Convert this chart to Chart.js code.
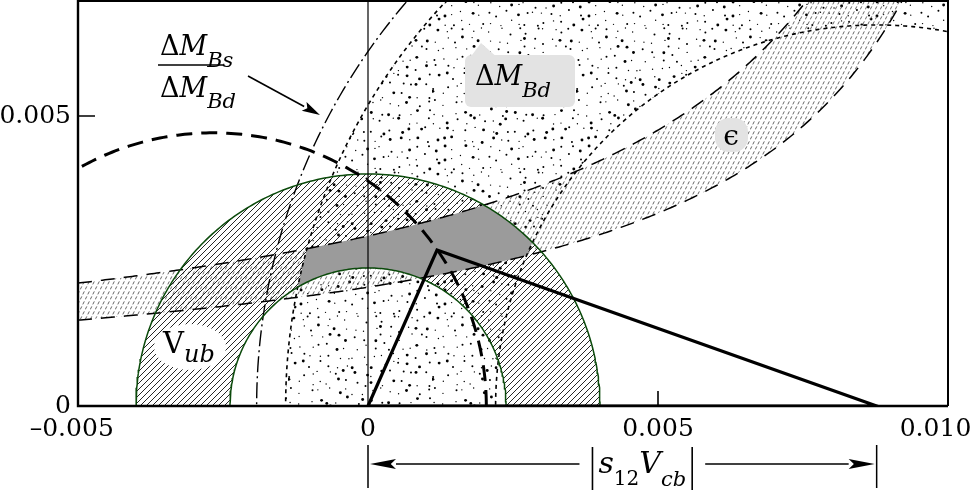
<!DOCTYPE html>
<html>
<head>
<meta charset="utf-8">
<script src="https://cdn.jsdelivr.net/npm/chart.js@4.4.1/dist/chart.umd.min.js"></script>
<style>
html,body{margin:0;padding:0;background:#fff;}
</style>
</head>
<body>
<canvas id="mycanvas" width="977" height="497"></canvas>
<script>
// axis ticks
var xTicks = [-0.005, 0, 0.005, 0.010];
var xTickLabels = ['\u20130.005\u2002', '0', '0.005', '0.010\u2003'];
var yTicks = [0, 0.005];
var yTickLabels = ['0', '0.005'];

// |Vub| annulus around the origin: inner, outer radius
var vubRadii = [0.00238, 0.0040];
// dM_Bd annulus around (|s12 Vcb|, 0): inner, outer radius
var dmdCentre = [0.00877, 0];
var dmdRadii = [0.00657, 0.01019];
// dM_Bs/dM_Bd bound, same centre
var dmsRadius = [0.01069];
// thick dashed circle: centre x, radius
var bigCircle = [-0.00267, 0.00471];
// epsilon band, y = k / (pole - x)
var epsPole = [0.01303];
var epsK = [0.0000382, 0.0000267];
// unitarity triangle
var triX = [0, 0.00119, 0.00877, 0];
var triY = [0, 0.00269, 0, 0];

var yTop = 0.007;

function arcPts(cx, r, n) {
  var p = [];
  for (var i = 0; i <= n; i++) {
    var t = Math.PI * i / n;
    p.push({x: cx + r * Math.cos(t), y: r * Math.sin(t)});
  }
  return p;
}
function hypPts(k, pole, n) {
  var p = [];
  var xEnd = pole - k / (yTop * 1.03);
  for (var i = 0; i <= n; i++) {
    var x = -0.005 + (xEnd + 0.005) * i / n;
    p.push({x: x, y: k / (pole - x)});
  }
  return p;
}
function lineSet(data, color, width, dash) {
  return {data: data, showLine: true, borderColor: color, borderWidth: width,
          borderDash: dash || [], pointRadius: 0, fill: false, tension: 0};
}

var ctx0 = document.getElementById('mycanvas').getContext('2d');

// stipple texture: one jittered dot per small cell, fixed hash
function makeStipple() {
  var cell = 9, N = 16, S = cell * N;
  var c = document.createElement('canvas');
  c.width = S; c.height = S;
  var g = c.getContext('2d');
  function hash(i, j, k) {
    var v = Math.sin(i * 127.1 + j * 311.7 + k * 74.7) * 43758.5453;
    return v - Math.floor(v);
  }
  g.fillStyle = '#000';
  for (var i = 0; i < N; i++) {
    for (var j = 0; j < N; j++) {
      var x = (i + 0.1 + 0.8 * hash(i, j, 1)) * cell;
      var y = (j + 0.1 + 0.8 * hash(i, j, 2)) * cell;
      var q = hash(i, j, 3);
      var r = q < 0.22 ? 1.45 : (q < 0.55 ? 1.0 : 0.7);
      g.beginPath(); g.arc(x, y, r, 0, 7); g.fill();
    }
  }
  return ctx0.createPattern(c, 'repeat');
}
function makeHatch() {
  var c = document.createElement('canvas');
  var n = 6;
  c.width = n; c.height = n;
  var g = c.getContext('2d');
  g.strokeStyle = '#000'; g.lineWidth = 0.85;
  g.beginPath();
  g.moveTo(0, n); g.lineTo(n, 0);
  g.moveTo(-1, 1); g.lineTo(1, -1);
  g.moveTo(n - 1, n + 1); g.lineTo(n + 1, n - 1);
  g.stroke();
  return ctx0.createPattern(c, 'repeat');
}
function makeEpsHatch() {
  var c = document.createElement('canvas');
  c.width = 5; c.height = 10;
  var g = c.getContext('2d');
  g.strokeStyle = '#555'; g.lineWidth = 0.9;
  g.beginPath();
  g.moveTo(0.3, 9.4); g.lineTo(1.8, 6.4);
  g.moveTo(2.8, 4.4); g.lineTo(4.3, 1.4);
  g.stroke();
  return ctx0.createPattern(c, 'repeat');
}
var stipple = makeStipple(), vubHatch = makeHatch(), epsHatch = makeEpsHatch();

function pxPerUnit(xs, ys) {
  // small steps only: the scale clamps pixels far outside the canvas
  return [(xs.getPixelForValue(0.001) - xs.getPixelForValue(0)) * 1000,
          (ys.getPixelForValue(0) - ys.getPixelForValue(0.001)) * 1000];
}
function annulusPath(ctx, xs, ys, cx, r1, r2) {
  var px = xs.getPixelForValue(cx), py = ys.getPixelForValue(0);
  var k = pxPerUnit(xs, ys);
  ctx.beginPath();
  ctx.ellipse(px, py, r2 * k[0], r2 * k[1], 0, Math.PI, 2 * Math.PI, false);
  ctx.ellipse(px, py, r1 * k[0], r1 * k[1], 0, 2 * Math.PI, Math.PI, true);
  ctx.closePath();
}
function bandPath(ctx, xs, ys) {
  var up = hypPts(epsK[0], epsPole[0], 200), lo = hypPts(epsK[1], epsPole[0], 200);
  ctx.beginPath();
  up.forEach(function(p, i) {
    var X = xs.getPixelForValue(p.x), Y = ys.getPixelForValue(p.y);
    if (i === 0) ctx.moveTo(X, Y); else ctx.lineTo(X, Y);
  });
  for (var i = lo.length - 1; i >= 0; i--) {
    ctx.lineTo(xs.getPixelForValue(lo[i].x), ys.getPixelForValue(lo[i].y));
  }
  ctx.closePath();
}
function roundRect(ctx, x, y, w, h, r) {
  ctx.beginPath();
  ctx.moveTo(x + r, y);
  ctx.arcTo(x + w, y, x + w, y + h, r);
  ctx.arcTo(x + w, y + h, x, y + h, r);
  ctx.arcTo(x, y + h, x, y, r);
  ctx.arcTo(x, y, x + w, y, r);
  ctx.closePath();
}

var regions = {
  id: 'regions',
  beforeDatasetsDraw: function(chart) {
    var ctx = chart.ctx, xs = chart.scales.x, ys = chart.scales.y, a = chart.chartArea;
    ctx.save();
    ctx.beginPath();
    ctx.rect(a.left, a.top, a.right - a.left, a.bottom - a.top);
    ctx.clip();

    annulusPath(ctx, xs, ys, dmdCentre[0], dmdRadii[0], dmdRadii[1]);
    ctx.fillStyle = stipple; ctx.fill();

    bandPath(ctx, xs, ys);
    ctx.fillStyle = epsHatch; ctx.fill();

    annulusPath(ctx, xs, ys, 0, vubRadii[0], vubRadii[1]);
    ctx.fillStyle = vubHatch; ctx.fill();

    // allowed region: all three constraints overlap
    ctx.save();
    annulusPath(ctx, xs, ys, 0, vubRadii[0], vubRadii[1]); ctx.clip();
    bandPath(ctx, xs, ys); ctx.clip();
    annulusPath(ctx, xs, ys, dmdCentre[0], dmdRadii[0], dmdRadii[1]); ctx.clip();
    ctx.fillStyle = '#9b9b9b';
    ctx.fillRect(a.left, a.top, a.right - a.left, a.bottom - a.top);
    ctx.restore();

    // label backgrounds
    var bx = xs.getPixelForValue(0.001845), by = ys.getPixelForValue(0.005534);
    ctx.fillStyle = '#e3e3e3';
    roundRect(ctx, bx - 10, by - 30, 110, 52, 6); ctx.fill();
    ctx.beginPath(); ctx.moveTo(bx - 6, by - 26); ctx.lineTo(bx + 6, by - 42); ctx.lineTo(bx + 24, by - 26); ctx.fill();
    var ex = xs.getPixelForValue(0.006259), ey = ys.getPixelForValue(0.0045);
    roundRect(ctx, ex - 16, ey - 27, 33, 34, 14); ctx.fill();
    var vx = xs.getPixelForValue(-0.003534), vy = ys.getPixelForValue(0.000914);
    ctx.fillStyle = '#fff';
    ctx.beginPath(); ctx.ellipse(vx + 27, vy - 6, 36, 23, 0, 0, 2 * Math.PI); ctx.fill();
    ctx.restore();
  }
};

function rich(ctx, x, y, parts) {
  var cx = x;
  parts.forEach(function(p) {
    ctx.font = p[1];
    ctx.fillText(p[0], cx, y + (p[2] || 0));
    cx += ctx.measureText(p[0]).width;
  });
  return cx - x;
}
function richWidth(ctx, parts) {
  var w = 0;
  parts.forEach(function(p) { ctx.font = p[1]; w += ctx.measureText(p[0]).width; });
  return w;
}
function arrow(ctx, x1, y1, x2, y2, len, half) {
  var ang = Math.atan2(y2 - y1, x2 - x1);
  var bx = x2 - len * Math.cos(ang), by = y2 - len * Math.sin(ang);
  ctx.beginPath(); ctx.moveTo(x1, y1); ctx.lineTo(bx, by); ctx.stroke();
  ctx.beginPath();
  ctx.moveTo(x2, y2);
  ctx.lineTo(bx + half * Math.sin(ang), by - half * Math.cos(ang));
  ctx.lineTo(x2 - 0.8 * len * Math.cos(ang), y2 - 0.8 * len * Math.sin(ang));
  ctx.lineTo(bx - half * Math.sin(ang), by + half * Math.cos(ang));
  ctx.closePath(); ctx.fill();
}

var F = 'DejaVu Serif';
var annotations = {
  id: 'annotations',
  afterDraw: function(chart) {
    var ctx = chart.ctx, xs = chart.scales.x, ys = chart.scales.y, a = chart.chartArea;
    ctx.save();
    ctx.strokeStyle = '#000'; ctx.fillStyle = '#000';
    // frame
    ctx.lineWidth = 2;
    ctx.beginPath();
    ctx.moveTo(a.left, a.top + 1); ctx.lineTo(a.right, a.top + 1);
    ctx.lineTo(a.right, a.bottom); ctx.stroke();
    ctx.lineWidth = 2.4;
    ctx.beginPath();
    ctx.moveTo(a.left, a.top); ctx.lineTo(a.left, a.bottom); ctx.lineTo(a.right, a.bottom);
    ctx.stroke();
    // inward ticks
    ctx.lineWidth = 1.6;
    ctx.beginPath();
    var ty = ys.getPixelForValue(yTicks[1]);
    ctx.moveTo(a.left, ty); ctx.lineTo(a.left + 17, ty);
    var tx = xs.getPixelForValue(xTicks[2]);
    ctx.moveTo(tx, a.bottom); ctx.lineTo(tx, a.bottom - 15);
    ctx.stroke();

    ctx.textBaseline = 'alphabetic'; ctx.textAlign = 'left';
    var big = '27px ' + F, bigI = 'italic 27px ' + F, sub = 'italic 21px ' + F;
    // dM_Bs / dM_Bd
    var fx = xs.getPixelForValue(-0.003586), fy = ys.getPixelForValue(0.006052);
    rich(ctx, fx, fy, [['\u0394', big], ['M', bigI], ['Bs', sub, 12]]);
    ctx.lineWidth = 1.6;
    ctx.beginPath(); ctx.moveTo(fx - 2, fy + 10); ctx.lineTo(fx + 63, fy + 10); ctx.stroke();
    rich(ctx, fx, fy + 42, [['\u0394', big], ['M', bigI], ['Bd', sub, 11]]);
    ctx.lineWidth = 1.6;
    arrow(ctx, xs.getPixelForValue(-0.002069), ys.getPixelForValue(0.00569),
          xs.getPixelForValue(-0.000828), ys.getPixelForValue(0.005017), 18, 5);
    // dM_Bd
    rich(ctx, xs.getPixelForValue(0.001845), ys.getPixelForValue(0.005534),
         [['\u0394', big], ['M', bigI], ['Bd', sub, 12]]);
    // epsilon
    ctx.font = '28px ' + F; ctx.textAlign = 'center';
    ctx.fillText('\u03f5', xs.getPixelForValue(0.006259), ys.getPixelForValue(0.0045));
    ctx.textAlign = 'left';
    // V_ub
    rich(ctx, xs.getPixelForValue(-0.003534), ys.getPixelForValue(0.000914),
         [['V', '29px ' + F], ['ub', 'italic 24px ' + F, 9]]);

    // |s12 Vcb| dimension below the axis
    var x0 = xs.getPixelForValue(0), x1 = xs.getPixelForValue(dmdCentre[0]);
    var b = a.bottom;
    ctx.lineWidth = 1.5;
    ctx.beginPath();
    ctx.moveTo(x0, b + 39); ctx.lineTo(x0, b + 82);
    ctx.moveTo(x1, b + 39); ctx.lineTo(x1, b + 82);
    ctx.stroke();
    var parts = [['s', 'italic 30px ' + F], ['12', '20px ' + F, 12], ['V', 'italic 30px ' + F], ['cb', 'italic 21px ' + F, 13]];
    var w = richWidth(ctx, parts);
    var mid = (x0 + x1) / 2 + 20;
    var lx = mid - w / 2;
    rich(ctx, lx, b + 67, parts);
    ctx.lineWidth = 1.6;
    ctx.beginPath();
    ctx.moveTo(lx - 6, b + 41); ctx.lineTo(lx - 6, b + 84);
    ctx.moveTo(lx + w + 6, b + 41); ctx.lineTo(lx + w + 6, b + 84);
    ctx.stroke();
    arrow(ctx, lx - 19, b + 58, x0 + 2, b + 58, 26, 5);
    arrow(ctx, lx + w + 19, b + 58, x1 - 2, b + 58, 26, 5);
    ctx.restore();
  }
};

var chartdata = {
  datasets: [
    lineSet(triX.map(function(v, i) { return {x: v, y: triY[i]}; }), '#000', 3.2),
    lineSet([{x: 0, y: 0}, {x: 0, y: yTop}], '#000', 1.2),
    lineSet(arcPts(bigCircle[0], bigCircle[1], 240), '#000', 3, [16, 9]),
    lineSet(arcPts(0, vubRadii[0], 200), '#0b4a0b', 1.5),
    lineSet(arcPts(0, vubRadii[1], 200), '#0b4a0b', 1.5),
    lineSet(hypPts(epsK[0], epsPole[0], 300), '#000', 1.5, [14, 9]),
    lineSet(hypPts(epsK[1], epsPole[0], 300), '#000', 1.5, [14, 9]),
    lineSet(arcPts(dmdCentre[0], dmdRadii[0], 300), '#000', 1.6, [4, 4]),
    lineSet(arcPts(dmdCentre[0], dmdRadii[1], 300), '#000', 1.6, [4, 4]),
    lineSet(arcPts(dmdCentre[0], dmsRadius[0], 300), '#000', 1.4, [16, 4, 2, 4])
  ]
};

var myChart = new Chart(ctx0, {
  type: 'scatter',
  data: chartdata,
  options: {
    responsive: false,
    animation: false,
    devicePixelRatio: 1,
    layout: {padding: {left: 0, right: 29, top: 0, bottom: 0}},
    plugins: {legend: {display: false}, tooltip: {enabled: false}},
    scales: {
      x: {
        type: 'linear', min: -0.005, max: 0.010,
        afterBuildTicks: function(s) { s.ticks = xTicks.map(function(v) { return {value: v}; }); },
        afterFit: function(s) { s.height = 91; s.paddingLeft = 0; s.paddingRight = 0; },
        grid: {display: false, drawTicks: false},
        border: {display: false},
        ticks: {
          font: {family: F, size: 25}, color: '#000', padding: 8, maxRotation: 0, autoSkip: false,
          callback: function(v, i) { return xTickLabels[i]; }
        }
      },
      y: {
        type: 'linear', min: 0, max: yTop,
        afterBuildTicks: function(s) { s.ticks = yTicks.map(function(v) { return {value: v}; }); },
        afterFit: function(s) { s.width = 78; s.paddingTop = 0; s.paddingBottom = 0; },
        grid: {display: false, drawTicks: false},
        border: {display: false},
        ticks: {
          font: {family: F, size: 25}, color: '#000', padding: 7, autoSkip: false,
          callback: function(v, i) { return yTickLabels[i]; }
        }
      }
    }
  },
  plugins: [regions, annotations]
});
</script>
</body>
</html>
